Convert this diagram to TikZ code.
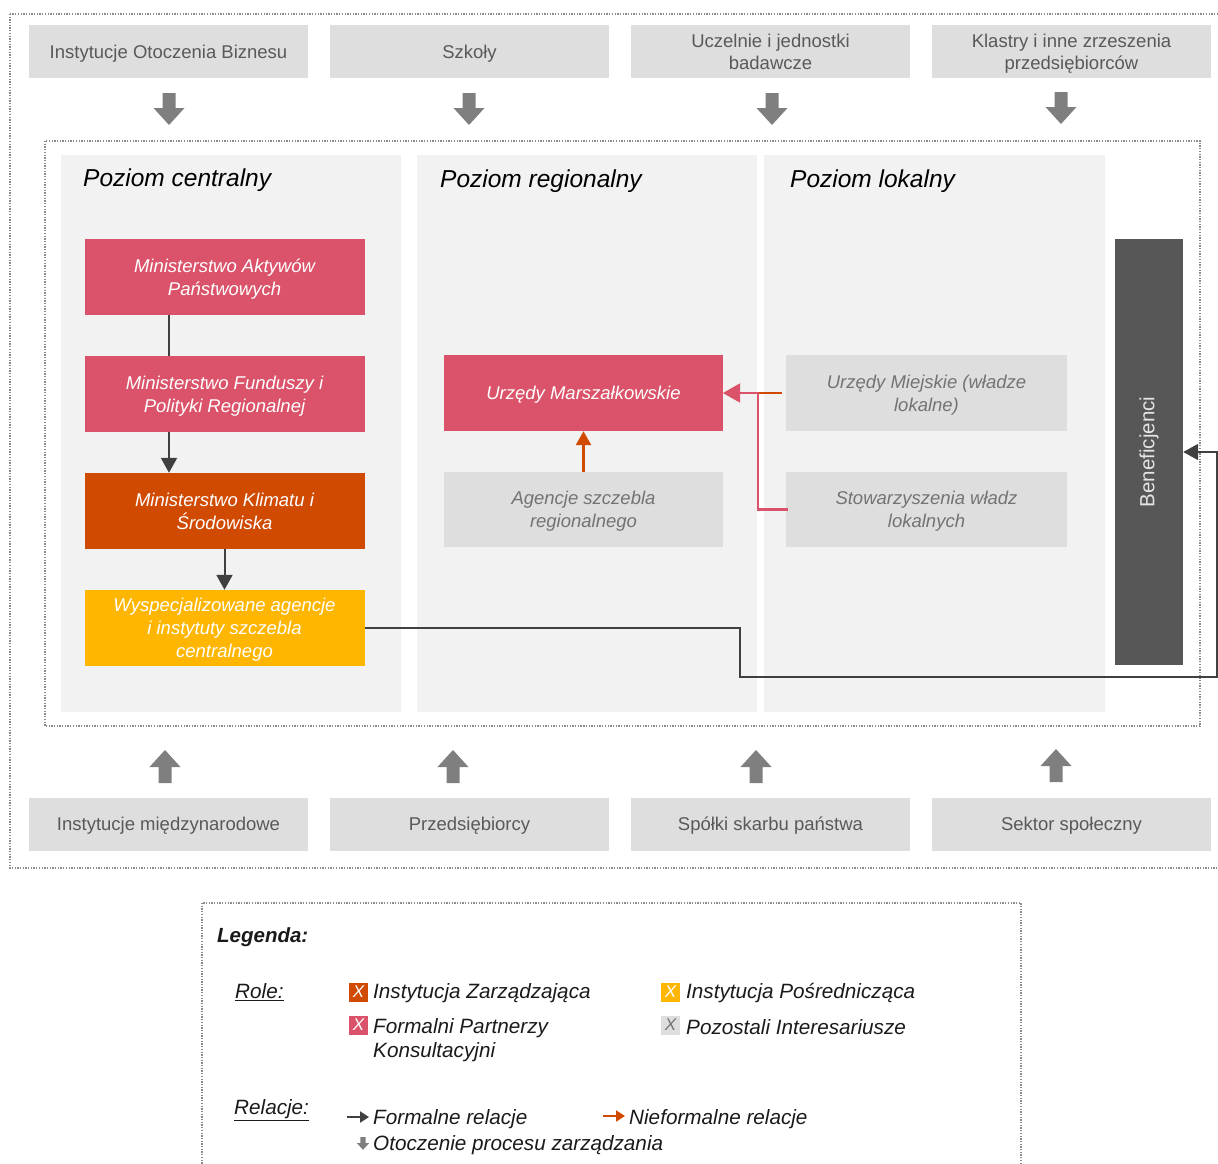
\documentclass[tikz,border=0pt]{standalone}
\usepackage{fontspec}
\setmainfont{Liberation Sans}
\usetikzlibrary{arrows.meta}

\definecolor{rose}{HTML}{DB536A}
\definecolor{mgmt}{HTML}{D04A02}
\definecolor{amber}{HTML}{FFB600}
\definecolor{boxgray}{HTML}{DEDEDE}
\definecolor{colgray}{HTML}{F2F2F2}
\definecolor{bengray}{HTML}{575757}
\definecolor{txtgray}{HTML}{595959}
\definecolor{softtxt}{HTML}{737373}
\definecolor{arrgray}{HTML}{7F7F7F}
\definecolor{linedark}{HTML}{404040}
\definecolor{dotgray}{HTML}{8C8C8C}
\definecolor{legtxt}{HTML}{1A1A1A}

\begin{document}
\begin{tikzpicture}[x=1pt,y=-1pt,
  envbox/.style={fill=boxgray, minimum width=279pt, minimum height=53pt, inner sep=0pt,
    text depth=0pt, text=txtgray, align=center, font=\fontsize{18.5}{22}\selectfont},
  orgbox/.style={minimum width=280pt, minimum height=76pt, inner sep=0pt, align=center,
    text depth=0pt, font=\itshape\fontsize{18.5}{23}\selectfont, text=white},
  pinkbox/.style={orgbox, fill=rose},
  mgmtbox/.style={orgbox, fill=mgmt},
  amberbox/.style={orgbox, fill=amber},
  otherbox/.style={orgbox, fill=boxgray, text=softtxt},
  leveltitle/.style={anchor=west, inner sep=0pt, font=\itshape\fontsize{24.5}{28}\selectfont},
  dotframe/.style={draw=dotgray, line width=1.3pt, dash pattern=on 1.3pt off 1.4pt},
  formal/.style={draw=linedark, line width=2pt, -{Triangle[length=15pt,width=16pt]}},
  formalplain/.style={draw=linedark, line width=2pt},
  informal/.style={draw=mgmt, line width=2.5pt, -{Triangle[length=14pt,width=15pt]}},
  consult/.style={draw=rose, line width=2.2pt, -{Triangle[length=17pt,width=19pt]}},
  envdown/.pic={\fill[arrgray] (-6.5,0) -- (6.5,0) -- (6.5,15) -- (15.5,15) -- (0,32) -- (-15.5,15) -- (-6.5,15) -- cycle;},
  envup/.pic={\fill[arrgray] (0,0) -- (15.5,17) -- (6.5,17) -- (6.5,33) -- (-6.5,33) -- (-6.5,17) -- (-15.5,17) -- cycle;},
  legtext/.style={anchor=west, inner sep=0pt, text=legtxt, align=left,
    font=\itshape\fontsize{20.7}{24}\selectfont},
  swatch/.style={minimum width=19pt, minimum height=19pt, inner sep=0pt,
    font=\itshape\fontsize{17}{17}\selectfont, text=white}
]
\useasboundingbox (0,0) rectangle (1218,1164);

% outer frame: process environment
\draw[dotframe] (10,14) rectangle (1222,868);

% environment actors above
\node[envbox] (ioB) at (168.5,52) {Instytucje Otoczenia Biznesu};
\node[envbox] (szk) at (469.5,52) {Szkoły};
\node[envbox] (ucz) at (770.5,52) {Uczelnie i jednostki\\badawcze};
\node[envbox] (kla) at (1071.5,52) {Klastry i inne zrzeszenia\\przedsiębiorców};

\pic at (169,93) {envdown};
\pic at (469,93) {envdown};
\pic at (772,93) {envdown};
\pic at (1061,92) {envdown};

% inner frame: management levels
\draw[dotframe] (45,141) rectangle (1200,726);

\fill[colgray] (61,155) rectangle (401,712);
\fill[colgray] (417,155) rectangle (757,712);
\fill[colgray] (764,155) rectangle (1105,712);

\node[leveltitle] (tc) at (83,180) {Poziom centralny};
\node[leveltitle] (tr) at (440,181) {Poziom regionalny};
\node[leveltitle] (tl) at (790,181) {Poziom lokalny};

% central level
\node[pinkbox] (map) at (224.5,277) {Ministerstwo Aktywów\\Państwowych};
\node[pinkbox] (mfipr) at (224.5,394) {Ministerstwo Funduszy i\\Polityki Regionalnej};
\node[mgmtbox] (mkis) at (224.5,511) {Ministerstwo Klimatu i\\Środowiska};
\node[amberbox] (wyspec) at (224.5,628) {Wyspecjalizowane agencje\\i instytuty szczebla\\centralnego};

% regional level
\node[pinkbox, minimum width=279pt] (umar) at (583.5,393) {Urzędy Marszałkowskie};
\node[otherbox, minimum width=279pt, minimum height=75pt] (agreg) at (583.5,509.5) {Agencje szczebla\\regionalnego};

% local level
\node[otherbox, minimum width=281pt, minimum height=76pt] (umiej) at (926.5,393) {Urzędy Miejskie (władze\\lokalne)};
\node[otherbox, minimum width=281pt, minimum height=75pt] (stow) at (926.5,509.5) {Stowarzyszenia władz\\lokalnych};

% beneficiaries
\node[fill=bengray, minimum width=68pt, minimum height=426pt, inner sep=0pt,
  text=white!90!black, font=\fontsize{20.5}{24}\selectfont] (ben) at (1149,452) {\rotatebox{90}{Beneficjenci}};

% relations
\coordinate (cx) at (169,0);
\draw[formalplain] (map.south -| cx) -- (mfipr.north -| cx);
\draw[formal] (mfipr.south -| cx) -- (mkis.north -| cx);
\draw[formal] (mkis.south) -- (wyspec.north);

\coordinate (r1) at (740,677);
\coordinate (r2) at (1217,677);
\draw[formal] (wyspec.east) -| (r1) -- (r2) |- (ben.east);

\draw[informal] (agreg.north) -- (umar.south);
\draw[informal] ([xshift=-4pt]umiej.west) -- (umar.east);
\coordinate (jn) at (758,0);
\draw[consult] ([xshift=2pt]stow.west) -- (stow.west -| jn) |- (umar.east);

% environment actors below
\pic at (165,750) {envup};
\pic at (453,750) {envup};
\pic at (756,750) {envup};
\pic at (1056,749) {envup};

\node[envbox] (imn) at (168.5,824) {Instytucje międzynarodowe};
\node[envbox] (prz) at (469.5,824) {Przedsiębiorcy};
\node[envbox] (ssp) at (770.5,824) {Spółki skarbu państwa};
\node[envbox] (sek) at (1071.5,824) {Sektor społeczny};

% legend
\draw[dotframe] (202,903) rectangle (1021,1172);
\node[legtext, font=\bfseries\itshape\fontsize{20.5}{24}\selectfont] (lg) at (217,937) {Legenda:};
\node[legtext] (lrole) at (235,992) {\underline{Role:}};

\node[swatch, fill=mgmt] (s1) at (358.5,992) {X};
\node[legtext] (t1) at (373,993) {Instytucja Zarządzająca};
\node[swatch, fill=amber] (s2) at (670.5,992) {X};
\node[legtext] (t2) at (686,993) {Instytucja Pośrednicząca};
\node[swatch, fill=rose] (s3) at (358.5,1025) {X};
\node[legtext, anchor=north west] (t3) at (373,1018) {Formalni Partnerzy\\Konsultacyjni};
\node[swatch, fill=boxgray, text=softtxt] (s4) at (670.5,1025) {X};
\node[legtext] (t4) at (686,1027) {Pozostali Interesariusze};

\node[legtext] (lrel) at (234,1110) {\underline{Relacje:}};
\coordinate (fa1) at (347,1117);
\coordinate (fa2) at (369,1117);
\draw[draw=linedark, line width=2pt, -{Triangle[length=9pt,width=11pt]}] (fa1) -- (fa2);
\node[legtext] (t5) at (373,1119) {Formalne relacje};
\coordinate (na1) at (603,1116);
\coordinate (na2) at (625,1116);
\draw[draw=mgmt, line width=2pt, -{Triangle[length=9pt,width=11pt]}] (na1) -- (na2);
\node[legtext] (t6) at (629,1119) {Nieformalne relacje};
\pic[scale=0.4] at (363,1137) {envdown};
\node[legtext] (t7) at (373,1145) {Otoczenie procesu zarządzania};
\end{tikzpicture}
\end{document}
